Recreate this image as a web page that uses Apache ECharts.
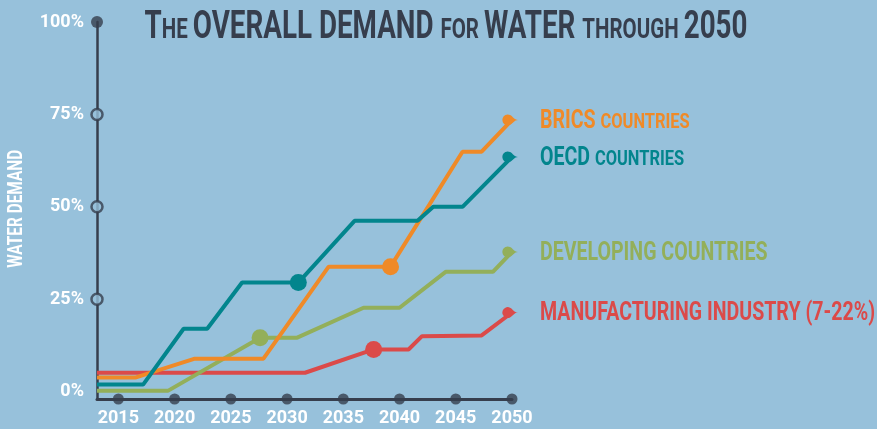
<!DOCTYPE html>
<html>
<head>
<meta charset="utf-8">
<script src="https://cdn.jsdelivr.net/npm/echarts@6/dist/echarts.min.js"></script>
<style>
  html, body { margin: 0; padding: 0; background: #97c1db; }
  #chart { width: 877px; height: 429px; }
</style>
</head>
<body>
<div id="chart"></div>
<script>
// values: [year, % of demand]
const xStart = 2013.1
const yearTicks = [2015, 2020, 2025, 2030, 2035, 2040, 2045, 2050]
const pctTicks = [0, 25, 50, 75, 100]

const brics = [[xStart, 3.8], [2016.5, 3.8], [2021.8, 8.9], [2027.9, 8.9], [2033.7, 33.8], [2039.2, 33.8], [2045.6, 64.9], [2047.3, 64.9], [2050, 73.5]]
const oecd = [[xStart, 1.9], [2017.2, 1.9], [2020.8, 17], [2022.9, 17], [2026, 29.5], [2031, 29.5], [2036, 46.2], [2041.6, 46.2], [2043, 50], [2045.6, 50], [2050, 63.5]]
const developing = [[xStart, 0.2], [2019.4, 0.2], [2027.6, 14.6], [2030.9, 14.6], [2036.8, 22.7], [2040, 22.7], [2044.1, 32.4], [2048.3, 32.4], [2050, 37.8]]
const manufacturing = [[xStart, 5.1], [2031.6, 5.1], [2037.7, 11.4], [2040.8, 11.4], [2042, 15], [2047.3, 15.2], [2050, 21.4]]

// index of the big dot on each line
const dotIndex = { brics: 5, oecd: 5, developing: 2, manufacturing: 2 }

const FONT = 'Roboto'
const DARK = '#363e4d'
const BG = '#97c1db'

const seriesDefs = [
  { key: 'manufacturing', data: manufacturing, color: '#db4a49', parts: [['MANUFACTURING INDUSTRY (7-22%)', 'b']] },
  { key: 'developing', data: developing, color: '#93af5a', parts: [['DEVELOPING COUNTRIES', 'b']] },
  { key: 'brics', data: brics, color: '#ef8a28', parts: [['BRICS ', 'b'], ['COUNTRIES', 's']] },
  { key: 'oecd', data: oecd, color: '#02858d', parts: [['OECD ', 'b'], ['COUNTRIES', 's']] }
]

// measure text so the wide system font can be squeezed to the condensed look
const ctx = document.createElement('canvas').getContext('2d')
function measure(parts, sizes) {
  let w = 0
  parts.forEach(p => {
    ctx.font = 'bold ' + sizes[p[1]] + 'px ' + FONT
    w += ctx.measureText(p[0]).width
  })
  return w
}
function richText(parts) {
  return parts.map(p => '{' + p[1] + '|' + p[0] + '}').join('')
}
function richStyles(sizes, color) {
  const r = {}
  Object.keys(sizes).forEach(k => {
    // lift the small caps so their baseline sits on the big letters' baseline
    const lift = Math.round((sizes.b - sizes[k]) * 0.23)
    r[k] = {
      fontFamily: FONT, fontWeight: 'bold', fontSize: sizes[k], fill: color,
      verticalAlign: 'bottom', lineHeight: sizes.b + 2, padding: [0, 0, lift, 0]
    }
  })
  return r
}

const chart = echarts.init(document.getElementById('chart'))

chart.setOption({
  backgroundColor: BG,
  animation: false,
  grid: { left: 97, right: 365, top: 22, bottom: 30 },
  xAxis: {
    type: 'value',
    min: xStart,
    max: 2050,
    axisLine: { onZero: false, lineStyle: { color: DARK, width: 3 } },
    axisTick: { show: false },
    splitLine: { show: false },
    axisLabel: {
      customValues: yearTicks,
      formatter: v => String(v),
      color: '#fff',
      fontFamily: FONT,
      fontWeight: 'bold',
      fontSize: 18,
      margin: 10
    }
  },
  yAxis: {
    type: 'value',
    min: -2,
    max: 100,
    axisLine: { onZero: false, lineStyle: { color: DARK, width: 2.5 } },
    axisTick: { show: false },
    splitLine: { show: false },
    axisLabel: {
      customValues: pctTicks,
      formatter: v => v + '%',
      color: '#fff',
      fontFamily: FONT,
      fontWeight: 'bold',
      fontSize: 18,
      margin: 13
    }
  },
  series: [
    // dots along the year axis
    {
      type: 'scatter',
      clip: false,
      symbolSize: 11,
      z: 4,
      itemStyle: { color: DARK },
      data: yearTicks.map(y => [y, -2])
    },
    // circles along the percent axis
    {
      type: 'scatter',
      clip: false,
      z: 4,
      data: pctTicks.slice(1).map(p => (p === 100
        ? { value: [xStart, p], symbolSize: 12, itemStyle: { color: DARK } }
        : { value: [xStart, p], symbolSize: 11, itemStyle: { color: BG, borderColor: DARK, borderWidth: 2.5 } }))
    }
  ].concat(seriesDefs.map(s => ({
    name: s.parts.map(p => p[0]).join(''),
    type: 'line',
    clip: false,
    symbol: 'none',
    z: 3,
    lineStyle: { color: s.color, width: 4 },
    itemStyle: { color: s.color },
    data: s.data.map((d, i) => {
      if (i === dotIndex[s.key]) {
        return { value: d, symbol: 'circle', symbolSize: 17 }
      }
      if (i === s.data.length - 1) {
        return { value: d, symbol: 'pin', symbolSize: 18, symbolRotate: 90, symbolOffset: [6, 0] }
      }
      return d
    })
  })))
})

// title, squeezed to the width it has in the picture
const titleParts = [['T', 'b'], ['HE ', 's'], ['OVERALL DEMAND ', 'b'], ['FOR ', 's'], ['WATER ', 'b'], ['THROUGH ', 's'], ['2050', 'b']]
const titleSizes = { b: 38, s: 28 }
const titleScale = 603 / measure(titleParts, titleSizes)

// series names next to the line ends
const labelSizes = { b: 25, s: 21 }
const labelScale = 335 / measure(seriesDefs[0].parts, labelSizes)

// axis title, squeezed the same way
const axisNameParts = [['WATER DEMAND', 'b']]
const axisNameSizes = { b: 20 }
const axisNameScale = 118 / measure(axisNameParts, axisNameSizes)
const yMid = chart.convertToPixel({ gridIndex: 0 }, [xStart, 50])[1]

const graphics = [{
  type: 'text',
  x: 446,
  y: 47,
  scaleX: titleScale,
  style: {
    text: richText(titleParts),
    rich: richStyles(titleSizes, DARK),
    align: 'center',
    verticalAlign: 'bottom'
  }
}, {
  type: 'text',
  x: 17,
  y: yMid + 2,
  rotation: Math.PI / 2,
  scaleX: axisNameScale,
  style: {
    text: axisNameParts[0][0],
    fontFamily: FONT,
    fontWeight: 'bold',
    fontSize: axisNameSizes.b,
    fill: '#fff',
    align: 'center',
    verticalAlign: 'middle'
  }
}]
seriesDefs.forEach(s => {
  const end = chart.convertToPixel({ gridIndex: 0 }, s.data[s.data.length - 1])
  graphics.push({
    type: 'text',
    x: end[0] + 28,
    y: end[1] + 14,
    scaleX: labelScale,
    style: {
      text: richText(s.parts),
      rich: richStyles(labelSizes, s.color),
      align: 'left',
      verticalAlign: 'bottom'
    }
  })
})
chart.setOption({ graphic: graphics })
</script>
</body>
</html>
